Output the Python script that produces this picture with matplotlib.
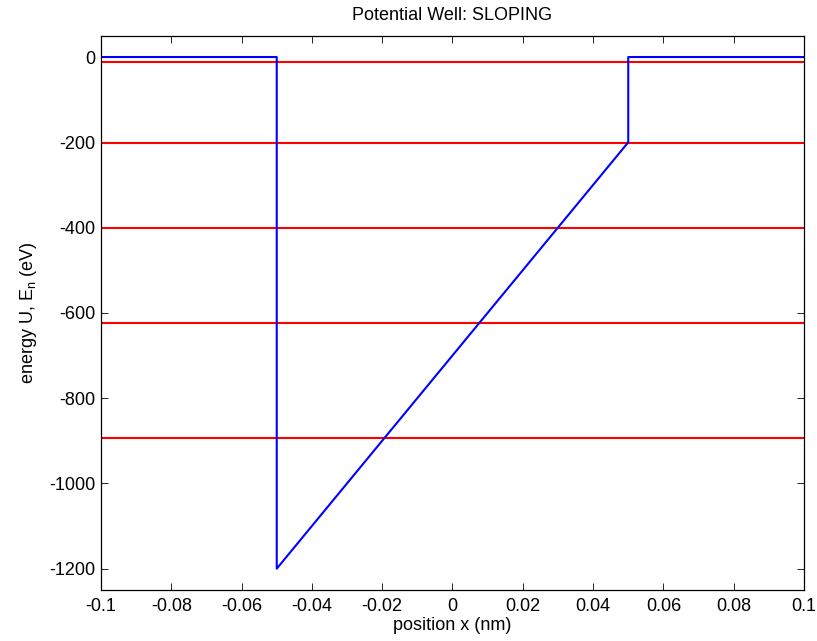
import matplotlib
matplotlib.use("Agg")
import matplotlib.pyplot as plt

# potential profile (sloping well)
x_well = [-0.1, -0.05, -0.05, 0.05, 0.05, 0.1]
u_well = [0, 0, -1200, -200, 0, 0]

# energy eigenvalues (eV)
e_levels = [-11, -201, -401, -623, -894]

plt.rcParams["font.family"] = ["Liberation Sans", "DejaVu Sans"]
plt.rcParams["font.size"] = 13

fig = plt.figure(figsize=(8.17, 6.41), dpi=100)
ax = fig.add_axes([0.1236, 0.0796, 0.8605, 0.8647])

for e in e_levels:
    ax.plot([-0.1, 0.1], [e, e], color="red", lw=1.5)
ax.plot(x_well, u_well, color="blue", lw=1.5)

ax.set_xlim(-0.1, 0.1)
ax.set_ylim(-1250, 50)
ax.set_xticks([-0.1, -0.08, -0.06, -0.04, -0.02, 0, 0.02, 0.04, 0.06, 0.08, 0.1])
ax.set_xticklabels(["-0.1", "-0.08", "-0.06", "-0.04", "-0.02", "0",
                    "0.02", "0.04", "0.06", "0.08", "0.1"])
ax.set_yticks([0, -200, -400, -600, -800, -1000, -1200])
ax.set_yticklabels(["0", "-200", "-400", "-600", "-800", "-1000", "-1200"])
ax.tick_params(direction="in", top=True, right=True, length=5, width=0.6, labelsize=13)
ax.tick_params(axis="x", pad=5.5)
ax.tick_params(axis="y", pad=4.3)
for s in ax.spines.values():
    s.set_linewidth(0.9)

ax.set_xlabel("position x (nm)", fontsize=13, labelpad=2)
ax.set_ylabel("energy U, E$_\\mathregular{n}$ (eV)", fontsize=13, labelpad=7)
ax.set_title("Potential Well: SLOPING", fontsize=13, pad=11)

fig.savefig("out.png", dpi=100)
